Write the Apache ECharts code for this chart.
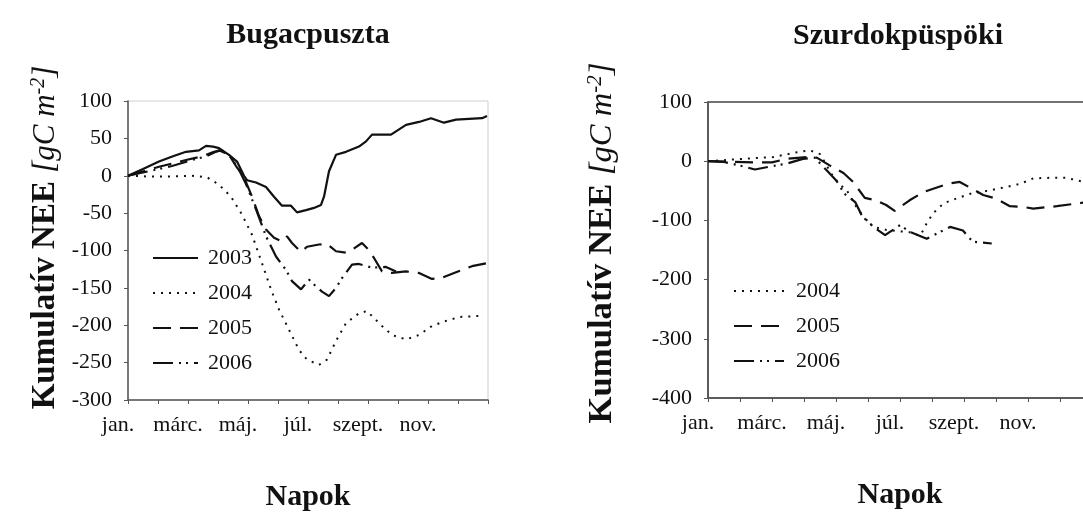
<!DOCTYPE html>
<html>
<head>
<meta charset="utf-8">
<script src="https://cdn.jsdelivr.net/npm/echarts@6/dist/echarts.min.js"></script>
<style>
  html, body { margin: 0; padding: 0; background: #fff; }
  #main { width: 1083px; height: 514px; }
</style>
</head>
<body>
<div id="main"></div>
<script>
// days of year (30-day months on the axis) -> cumulative NEE [gC m-2]
const monthLabels = ['jan.', 'márc.', 'máj.', 'júl.', 'szept.', 'nov.'];
const bugacTicksY = [-300, 100, 50];
const szurdokTicksY = [-400, 100, 100];

const bugac2003 = [[0, 0], [15, 9], [31, 19], [45, 26], [58, 32], [71, 34], [78, 40], [85, 39], [91, 37], [101, 28],
  [109, 19], [116, 0], [119, -6], [128, -9], [138, -15], [146, -28], [154, -40], [163, -40], [169, -49], [178, -46],
  [186, -43], [193, -39], [196, -28], [201, 6], [208, 28], [218, 32], [231, 39], [238, 46], [244, 55], [263, 55],
  [278, 68], [291, 72], [303, 77], [316, 71], [328, 75], [341, 76], [354, 77], [359, 80]];
const bugac2004 = [[0, 0], [20, -1], [41, -1], [63, 0], [79, -2], [91, -12], [103, -28], [114, -52], [124, -79],
  [134, -117], [143, -152], [151, -179], [161, -206], [171, -233], [179, -246], [191, -253], [199, -246], [208, -221],
  [218, -197], [231, -184], [239, -181], [254, -201], [264, -213], [278, -219], [291, -213], [304, -201], [316, -195],
  [331, -189], [344, -188], [356, -187]];
const bugac2005 = [[0, 0], [31, 12], [58, 21], [74, 26], [86, 32], [94, 34], [101, 28], [108, 13], [116, -2], [124, -28],
  [131, -54], [138, -72], [146, -83], [154, -88], [159, -81], [164, -90], [173, -102], [179, -95], [191, -92], [199, -91],
  [208, -101], [218, -103], [224, -99], [234, -90], [240, -98], [246, -110], [254, -128], [264, -130], [278, -128],
  [291, -130], [304, -138], [313, -137], [328, -129], [344, -121], [359, -117]];
const bugac2006 = [[0, 0], [24, 7], [44, 13], [64, 21], [78, 26], [91, 34], [101, 28], [111, 8], [118, -11], [128, -45],
  [138, -81], [148, -108], [158, -126], [164, -141], [173, -152], [181, -139], [188, -148], [194, -155], [201, -161],
  [208, -150], [214, -137], [224, -119], [231, -118], [244, -123], [258, -122], [268, -128]];

const szurdok2004 = [[0, 0], [33, 4], [61, 7], [86, 16], [96, 18], [105, 12], [117, -25], [124, -40], [130, -49],
  [139, -77], [149, -102], [157, -112], [167, -116], [177, -118], [189, -120], [199, -126], [205, -105], [211, -88],
  [221, -71], [233, -63], [246, -55], [265, -49], [281, -43], [293, -38], [305, -29], [321, -28], [336, -28],
  [352, -35], [360, -38]];
const szurdok2005 = [[0, 0], [24, -1], [45, -2], [60, -2], [74, 4], [93, 7], [102, 6], [114, -7], [127, -20], [136, -35],
  [147, -62], [157, -66], [167, -74], [175, -84], [189, -66], [202, -52], [225, -38], [236, -35], [258, -57], [270, -63],
  [283, -76], [294, -77], [305, -80], [327, -76], [352, -70], [360, -68]];
const szurdok2006 = [[0, 0], [14, -1], [29, -7], [44, -14], [64, -7], [74, -4], [89, 4], [100, 6], [111, -15], [120, -32],
  [128, -55], [138, -69], [144, -91], [155, -111], [166, -125], [180, -108], [189, -119], [205, -131], [227, -111],
  [239, -117], [248, -136], [266, -139]];

const serif = "'Liberation Serif', 'Times New Roman', serif";
const ink = '#111';

const dashes = {
  '2003': 'solid',
  '2004': [2, 6],
  '2005': [18, 9],
  '2006': [20, 6, 2, 5, 2, 6]
};

function lineSeries(name, data, idx) {
  return {
    type: 'line',
    name: name,
    data: data,
    xAxisIndex: idx,
    yAxisIndex: idx,
    symbol: 'none',
    showSymbol: false,
    animation: false,
    lineStyle: { color: ink, width: name === '2004' ? 2 : 2.2, type: dashes[name] },
    itemStyle: { color: ink }
  };
}

function xAxis(idx) {
  return {
    type: 'value',
    gridIndex: idx,
    min: 0,
    max: 360,
    interval: 30,
    name: 'Napok',
    nameLocation: 'middle',
    nameGap: 82,
    nameTextStyle: { fontFamily: serif, fontSize: 30, fontWeight: 'bold', color: ink },
    axisLine: { onZero: false, lineStyle: { color: '#555', width: 1.5 } },
    axisTick: { show: true, length: 4, inside: false, lineStyle: { color: '#555' } },
    splitLine: { show: false },
    axisLabel: {
      fontFamily: serif, fontSize: 22, color: ink, margin: 14, padding: [0, 20, 0, 0],
      formatter: function (v) {
        return (v % 60 === 0 && v < 360) ? monthLabels[v / 60] : '';
      }
    }
  };
}

function yAxis(idx, ticks, gap, shift, k) {
  return {
    type: 'value',
    gridIndex: idx,
    min: ticks[0],
    max: ticks[1],
    interval: ticks[2],
    name: '{b|Kumulatív NEE }{i|[gC m}{s|-2}{i|]}',
    nameLocation: 'middle',
    nameRotate: 90,
    nameGap: gap,
    nameTextStyle: {
      color: ink,
      padding: [0, 0, 0, shift],
      rich: {
        b: { fontFamily: serif, fontSize: 33 * k, fontWeight: 'bold', color: ink },
        i: { fontFamily: serif, fontSize: 31 * k, fontStyle: 'italic', color: ink },
        s: { fontFamily: serif, fontSize: 20 * k, fontStyle: 'italic', color: ink, verticalAlign: 'top' }
      }
    },
    axisLine: { show: true, onZero: false, lineStyle: { color: '#555', width: 1.5 } },
    axisTick: { show: true, length: 4, lineStyle: { color: '#555' } },
    splitLine: { show: false },
    axisLabel: { fontFamily: serif, fontSize: 22, color: ink, margin: 16 }
  };
}

function legend(left, top, width, pad, names) {
  return {
    orient: 'vertical',
    left: left,
    top: top,
    itemWidth: width,
    itemHeight: 14,
    itemGap: 13,
    selectedMode: false,
    data: names,
    itemStyle: { opacity: 0 },
    textStyle: { fontFamily: serif, fontSize: 22, color: ink, padding: [0, 0, 0, pad] }
  };
}

const chart = echarts.init(document.getElementById('main'));
chart.setOption({
  backgroundColor: '#fff',
  animation: false,
  title: [
    { text: 'Bugacpuszta', left: 308, top: 20, textAlign: 'center', padding: 0,
      textStyle: { fontFamily: serif, fontSize: 30, fontWeight: 'bold', color: ink } },
    { text: 'Szurdokpüspöki', left: 898, top: 21, textAlign: 'center', padding: 0,
      textStyle: { fontFamily: serif, fontSize: 30, fontWeight: 'bold', color: ink } }
  ],
  grid: [
    { left: 128, top: 101, width: 360, height: 299, outerBoundsMode: 'none',
      show: true, borderColor: '#cfcfcf', borderWidth: 1 },
    { left: 708, top: 102, width: 384, height: 296, outerBoundsMode: 'none',
      show: true, borderColor: '#444', borderWidth: 1.5 }
  ],
  legend: [
    legend(147, 242, 45, 5, ['2003', '2004', '2005', '2006']),
    legend(728, 275, 50, 7, ['2004', '2005', '2006'])
  ],
  xAxis: [xAxis(0), xAxis(1)],
  yAxis: [yAxis(0, bugacTicksY, 66, 26, 1), yAxis(1, szurdokTicksY, 88, 14, 1.05)],
  series: [
    lineSeries('2003', bugac2003, 0),
    lineSeries('2004', bugac2004, 0),
    lineSeries('2005', bugac2005, 0),
    lineSeries('2006', bugac2006, 0),
    lineSeries('2004', szurdok2004, 1),
    lineSeries('2005', szurdok2005, 1),
    lineSeries('2006', szurdok2006, 1)
  ]
});
</script>
</body>
</html>
